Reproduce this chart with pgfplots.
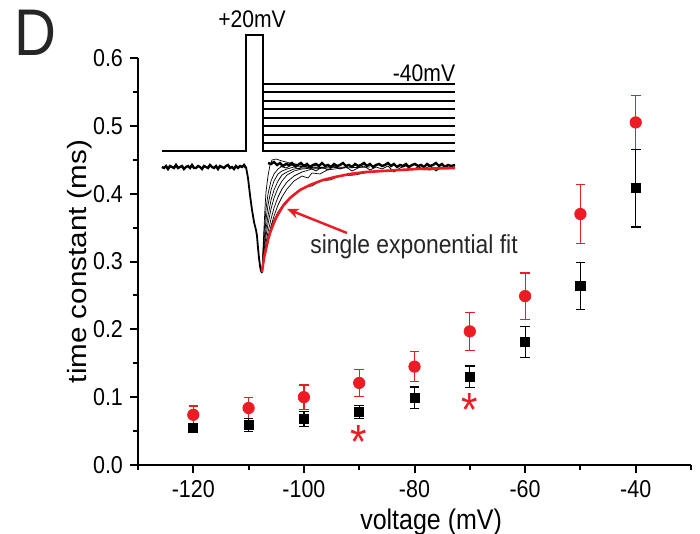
\documentclass[border=0pt]{standalone}
\usepackage{fontspec}
\setmainfont{Liberation Sans}[FakeStretch=0.88]
\newfontfamily\ylabfont{Liberation Sans}[FakeStretch=1.12]
\usepackage{pgfplots}
\pgfplotsset{compat=1.18}
\usetikzlibrary{arrows.meta}
\definecolor{myred}{RGB}{237,28,36}

\pgfplotstableread{
x y e
-120 0.074 0.013
-110 0.084 0.015
-100 0.100 0.018
-90 0.121 0.020
-80 0.145 0.022
-70 0.197 0.028
-60 0.249 0.034
-50 0.370 0.044
-40 0.505 0.040
}\redtab
\pgfplotstableread{
x y e
-120 0.055 0.006
-110 0.059 0.010
-100 0.068 0.011
-90 0.078 0.0095
-80 0.099 0.016
-70 0.130 0.016
-60 0.181 0.023
-50 0.264 0.035
-40 0.408 0.057
}\blacktab

\begin{document}
\begin{tikzpicture}
\begin{axis}[
 at={(0,0)}, anchor=south west, scale only axis,
 width=276.5pt, height=203.5pt,
 xmin=-130, xmax=-30, ymin=0, ymax=0.6,
 axis lines=left, axis line style={-, line width=1pt},
 tick align=outside, tick style={line width=1pt, black},
 major tick length=4pt, minor tick length=2.5pt,
 xtick={-120,-100,-80,-60,-40}, xticklabels={-120,-100,-80,-60,-40},
 minor xtick={-130,-110,-90,-70,-50,-30},
 ytick={0,0.1,0.2,0.3,0.4,0.5,0.6}, yticklabels={0.0,0.1,0.2,0.3,0.4,0.5,0.6},
 minor ytick={0.05,0.15,0.25,0.35,0.45,0.55},
 ticklabel style={font=\fontsize{12.2}{14}\selectfont},
 xlabel={voltage (mV)}, ylabel={time constant (ms)},
 xlabel style={font=\fontsize{14.2}{16}\selectfont, at={(axis description cs:0.53,-0.14)}, anchor=center},
 ylabel style={font=\ylabfont\fontsize{13.2}{15}\selectfont, at={(axis description cs:-0.105,0.5)}, anchor=center},
 clip=false,
]
\addplot[only marks, mark=*, color=myred, mark size=2.85pt,
  error bars/.cd, y dir=both, y explicit,
  error bar style={line width=0.6pt, myred},
  error mark options={rotate=90, mark size=2.4pt, line width=0.6pt, myred}]
  table[x=x, y=y, y error=e] {\redtab};
\addplot[only marks, mark=square*, color=black, mark size=2.3pt,
  error bars/.cd, y dir=both, y explicit,
  error bar style={line width=0.6pt, black},
  error mark options={rotate=90, mark size=2.4pt, line width=0.6pt, black}]
  table[x=x, y=y, y error=e] {\blacktab};
\node[text=myred, font=\fontsize{24}{24}\selectfont, anchor=base, yshift=-12.3pt] at (axis cs:-90,0.046) {*};
\node[text=myred, font=\fontsize{24}{24}\selectfont, anchor=base, yshift=-12.3pt] at (axis cs:-70,0.093) {*};
\end{axis}

\begin{axis}[
 at={(0,0)}, anchor=south west, scale only axis,
 width=276.5pt, height=203.5pt,
 xmin=138, xmax=691, ymin=-465, ymax=-58,
 hide axis, clip=false,
]
% voltage protocol
\addplot[black, line width=0.7pt] coordinates {(162,-151) (246,-151) (246,-35) (263,-35) (263,-151) (455,-151)};
\addplot[black, line width=0.7pt] coordinates {(263,-84) (455,-84)};
\addplot[black, line width=0.7pt] coordinates {(263,-92) (455,-92)};
\addplot[black, line width=0.7pt] coordinates {(263,-101) (455,-101)};
\addplot[black, line width=0.7pt] coordinates {(263,-109) (455,-109)};
\addplot[black, line width=0.7pt] coordinates {(263,-118) (455,-118)};
\addplot[black, line width=0.7pt] coordinates {(263,-126) (455,-126)};
\addplot[black, line width=0.7pt] coordinates {(263,-135) (455,-135)};
\addplot[black, line width=0.7pt] coordinates {(263,-143) (455,-143)};
% noisy baseline before the pulse
\addplot[black, line width=1.2pt] coordinates {
(162,-167) (164,-168) (166,-166) (168,-169) (170,-166) (172,-167) (174,-168) (176,-165)
(178,-168) (180,-167) (182,-166) (184,-169) (186,-167) (188,-166) (190,-168) (192,-165)
(194,-168) (196,-168) (198,-166) (200,-167) (202,-169) (204,-166) (206,-167) (208,-168)
(210,-165) (212,-167) (214,-168) (216,-166) (218,-169) (220,-166) (222,-167) (224,-168)
(226,-166) (228,-165) (230,-168) (232,-167) (234,-169) (236,-166) (238,-168) (240,-166)
(242,-167) (244,-165) (246,-168)};
% common descent
\addplot[black, line width=0.9pt] coordinates {
(246,-167) (248,-178) (250,-195) (252,-210) (254,-222) (256,-230) (257,-236) (258,-248)
(259,-258) (260,-266) (261,-271) (262,-273)};
% recovery traces
\addplot[black, line width=0.35pt] coordinates {(262,-272) (263,-250) (264,-228) (265,-208) (266,-192) (268,-176) (270,-165) (272,-160) (276,-159) (282,-161) (290,-163) (300,-165) (315,-166)};
\addplot[black, line width=0.35pt] coordinates {(262,-272) (264,-233) (266,-209) (268,-194) (271,-181) (274,-174) (278,-169) (284,-165) (292,-164) (305,-165) (320,-166)};
\addplot[black, line width=0.35pt] coordinates {(262,-272) (264,-241) (266,-220) (268,-205) (271,-190) (274,-181) (278,-174) (282,-171) (287,-169) (294,-167) (310,-166)};
\addplot[black, line width=0.35pt] coordinates {(262,-272) (264,-247) (266,-229) (268,-216) (271,-200) (274,-190) (278,-181) (282,-175) (287,-172) (294,-169) (302,-168) (320,-167)};
\addplot[black, line width=0.35pt] coordinates {(262,-272) (264,-251) (266,-236) (268,-224) (271,-209) (274,-198) (278,-188) (282,-181) (287,-175) (294,-171) (302,-169) (312,-168) (330,-167)};
\addplot[black, line width=0.35pt] coordinates {(262,-272) (264,-255) (266,-243) (268,-232) (271,-219) (274,-208) (278,-197) (282,-189) (287,-182) (294,-176) (302,-172) (312,-169) (327,-168) (345,-167)};
\addplot[black, line width=0.35pt] coordinates {(262,-272) (264,-258) (266,-247) (268,-238) (271,-226) (274,-216) (278,-205) (282,-197) (287,-189) (294,-181) (302,-176) (308,-178) (312,-173) (320,-174) (327,-170) (342,-168) (370,-167)};
\addplot[black, line width=0.35pt] coordinates {(262,-272) (264,-256) (268,-238) (272,-224) (278,-212) (285,-202) (295,-193) (305,-187) (312,-186) (320,-181) (330,-180) (340,-176) (355,-175) (370,-172) (390,-171) (410,-169) (430,-170) (455,-167)};
% noisy band after recovery
\addplot[black, line width=1.2pt] coordinates {
(268,-163) (271,-164) (274,-162) (277,-165) (280,-163) (283,-166) (286,-164) (289,-165)
(292,-163) (295,-166) (298,-165) (301,-163) (304,-166) (307,-164) (310,-167) (313,-165)
(316,-164) (319,-166) (322,-163) (325,-166) (328,-165) (331,-167) (334,-164) (337,-166)
(340,-165) (343,-163) (346,-166) (349,-165) (352,-167) (355,-164) (358,-166) (361,-165)
(364,-163) (367,-166) (370,-164) (373,-167) (376,-165) (379,-164) (382,-166) (385,-165)
(388,-163) (391,-166) (394,-164) (397,-167) (400,-165) (403,-166) (406,-164) (409,-167)
(412,-165) (415,-164) (418,-166) (421,-165) (424,-167) (427,-164) (430,-166) (433,-165)
(436,-163) (439,-166) (442,-164) (445,-167) (448,-165) (451,-166) (455,-165)};
\addplot[black, line width=0.4pt] coordinates {
(280,-166) (286,-168) (292,-165) (298,-169) (304,-166) (310,-168) (316,-171) (322,-167)
(328,-170) (334,-166) (340,-169) (346,-167) (352,-171) (358,-168) (364,-166) (370,-170)
(376,-167) (382,-169) (388,-166) (394,-172) (400,-168) (406,-166) (412,-170) (418,-167)
(424,-169) (430,-166) (436,-171) (442,-167) (448,-169) (455,-167)};
% red single exponential fit
\addplot[myred, line width=1.3pt] coordinates {
(262,-272) (264,-258) (266,-249) (268,-240) (270,-233) (273,-225) (276,-218) (280,-211)
(283,-206) (290,-198) (300,-190) (310,-185) (323,-180) (335,-177) (350,-174) (366,-172)
(383,-171) (400,-170) (417,-169) (435,-168.5) (455,-168)};
% arrow
\addplot[myred, line width=1.2pt, -{Stealth[length=6pt, width=5pt]}] coordinates {(347,-233) (287,-209)};
\node[font=\fontsize{12}{14}\selectfont] at (axis cs:252,-19) {+20mV};
\node[font=\fontsize{12}{14}\selectfont] at (axis cs:424,-73) {-40mV};
\node[font=\fontsize{13}{15}\selectfont, text=black!85] at (axis cs:414,-247) {single exponential fit};
\end{axis}
\node[font=\fontsize{33}{33}\selectfont, text=black!85] at (-51.5pt,216pt) {D};
\pgfresetboundingbox
\path[use as bounding box] (-69pt,-34.5pt) rectangle (281pt,232.5pt);
\end{tikzpicture}
\end{document}
